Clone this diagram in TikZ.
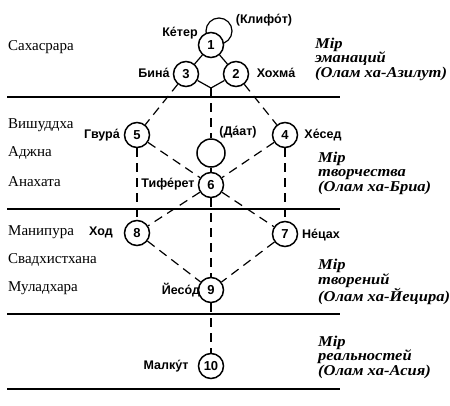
\documentclass[tikz,border=0pt]{standalone}
\usepackage{fontspec}
\setmainfont{Liberation Serif}
\newfontfamily\lblfont{Liberation Sans}
\newfontfamily\worldfont[FakeStretch=1.1]{Liberation Serif}
\begin{document}
\begin{tikzpicture}[x=1pt,y=-1pt,
  sef/.style={circle,draw,line width=1.5pt,fill=white,minimum size=25pt,inner sep=0pt,font=\lblfont\bfseries\fontsize{13}{13}\selectfont},
  lbl/.style={font=\lblfont\bfseries\fontsize{12.5}{15}\selectfont,inner sep=0pt},
  chakra/.style={anchor=west,font=\fontsize{15}{17}\selectfont,inner sep=0pt},
  world/.style={anchor=west,align=left,font=\worldfont\bfseries\itshape\fontsize{15}{14.5}\selectfont,inner sep=0pt},
  sline/.style={line width=1.2pt},
  dline/.style={line width=1.2pt,dash pattern=on 9pt off 6pt},
  sep/.style={line width=1.6pt}]
\useasboundingbox (0,0) rectangle (450,405);
% separators
\draw[sep] (7,97) -- (340,97);
\draw[sep] (7,209) -- (340,209);
\draw[sep] (7,314) -- (340,314);
\draw[sep] (7,389) -- (340,389);
% klifot
\node[circle,draw,line width=1.2pt,minimum size=26pt,inner sep=0pt] (kl) at (219,31) {};
% sefirot
\node[sef] (n1) at (211,45) {1};
\node[sef] (n2) at (236,74) {2};
\node[sef] (n3) at (186,74) {3};
\node[sef] (n4) at (285,135) {4};
\node[sef] (n5) at (137,135) {5};
\node[sef,minimum size=28pt] (da) at (211,153) {};
\node[sef] (n6) at (211,185) {6};
\node[sef] (n7) at (285,234) {7};
\node[sef] (n8) at (137,233) {8};
\node[sef] (n9) at (211,290) {9};
\node[sef] (n10) at (211,366) {10};
\coordinate (v) at (211,88);
% connectors
\draw[sline] (n1) -- (n2);
\draw[sline] (n1) -- (n3);
\draw[sline] (n3) -- (v) -- (n2);
\draw[dline] (v) -- (da);
\draw[sline] (da) -- (n6);
\draw[dline] (n3) -- (n5);
\draw[dline] (n2) -- (n4);
\draw[dline] (n5) -- (n6);
\draw[dline] (n4) -- (n6);
\draw[dline] (n5) -- (n8);
\draw[dline] (n4) -- (n7);
\draw[dline] (n6) -- (n8);
\draw[dline] (n6) -- (n7);
\draw[dline] (n6) -- (n9);
\draw[dline] (n8) -- (n9);
\draw[dline] (n7) -- (n9);
\draw[dline] (n9) -- (n10);
% sefirot names
\node[lbl] (t1) at (180,33) {Ке́тер};
\node[lbl] (tk) at (264,20) {(Клифо́т)};
\node[lbl] (t3) at (154,73) {Бина́};
\node[lbl] (t2) at (276,73) {Хохма́};
\node[lbl] (t5) at (102,135) {Гвура́};
\node[lbl] (td) at (238,132) {(Да́ат)};
\node[lbl] (t4) at (323,135) {Хе́сед};
\node[lbl] (t6) at (168,184) {Тифе́рет};
\node[lbl] (t8) at (101,232) {Ход};
\node[lbl] (t7) at (321,235) {Не́цах};
\node[lbl] (t9) at (181,290) {Йесо́д};
\node[lbl] (t10) at (166,366) {Малку́т};
% chakras
\node[chakra] (c1) at (8,47) {Сахасрара};
\node[chakra] (c2) at (8,125) {Вишуддха};
\node[chakra] (c3) at (8,153) {Аджна};
\node[chakra] (c4) at (8,182) {Анахата};
\node[chakra] (c5) at (8,232) {Манипура};
\node[chakra] (c6) at (8,260) {Свадхистхана};
\node[chakra] (c7) at (8,288) {Муладхара};
% worlds
\node[world] (w1) at (315,59) {Мір\\эманаций\\(Олам ха-Азилут)};
\node[world] (w2) at (318,173) {Мір\\творчества\\(Олам ха-Бриа)};
\node[world] (w3) at (318,282) {Мір\\творений\\(Олам ха-Йецира)};
\node[world] (w4) at (318,357) {Мір\\реальностей\\(Олам ха-Асия)};
\end{tikzpicture}
\end{document}
